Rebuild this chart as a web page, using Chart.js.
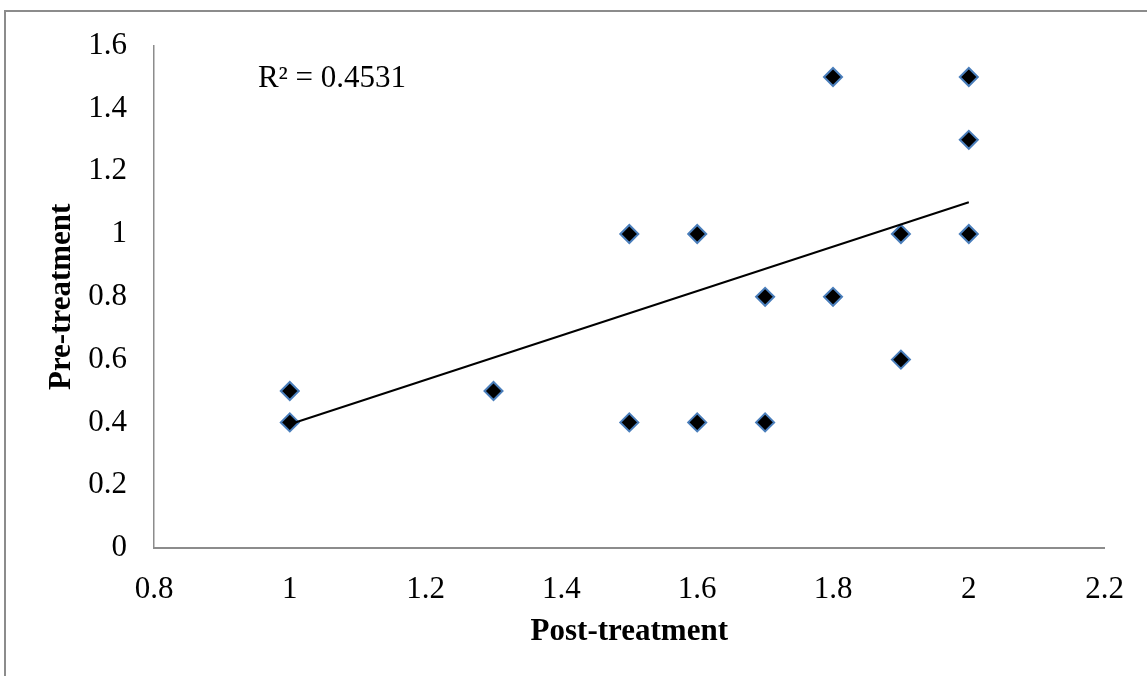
<!DOCTYPE html>
<html>
<head>
<meta charset="utf-8">
<script src="https://cdn.jsdelivr.net/npm/chart.js@4/dist/chart.umd.min.js"></script>
<style>
  body{margin:0;background:#fff;}
  canvas{display:block;}
</style>
</head>
<body>
<canvas id="chart" width="1147" height="676"></canvas>
<script>
// values
let postTreatment=[1,1,1.3,1.5,1.5,1.6,1.6,1.7,1.7,1.8,1.8,1.9,1.9,2,2,2];
let preTreatment=[0.5,0.4,0.5,1,0.4,1,0.4,0.8,0.4,1.5,0.8,1,0.6,1.5,1.3,1];
// linear trendline ends
let trendX=[1,2];
let trendY=[0.394,1.101];
let xTickLabels=['0.8','1','1.2','1.4','1.6','1.8','2','2.2'];
let yTickLabels=['0','0.2','0.4','0.6','0.8','1','1.2','1.4','1.6'];
let r2Text='R\u00b2 = 0.4531';
let r2Pos=[0.953,1.493];

let points=[];
for(let i=0;i<postTreatment.length;++i){
    points.push({x:postTreatment[i],y:preTreatment[i]});
}
let trend=[];
for(let i=0;i<trendX.length;++i){
    trend.push({x:trendX[i],y:trendY[i]});
}

const serif="'Liberation Serif','Times New Roman',serif";
const axisGray='#8c8c8c';
const fontSize=31;

// outer chart frame (only top and left edge show in the picture)
const framePlugin={
    id:'frame',
    beforeDraw(chart){
        const ctx=chart.ctx;
        ctx.save();
        ctx.strokeStyle=axisGray;
        ctx.lineWidth=2;
        ctx.beginPath();
        ctx.moveTo(chart.width,11);
        ctx.lineTo(5,11);
        ctx.lineTo(5,chart.height);
        ctx.stroke();
        ctx.restore();
    }
};

const r2Plugin={
    id:'r2label',
    afterDraw(chart){
        const ctx=chart.ctx;
        ctx.save();
        ctx.font=fontSize+'px '+serif;
        ctx.fillStyle='#000';
        ctx.textAlign='left';
        ctx.textBaseline='middle';
        ctx.fillText(r2Text,chart.scales.x.getPixelForValue(r2Pos[0]),chart.scales.y.getPixelForValue(r2Pos[1]));
        ctx.restore();
    }
};

new Chart(document.getElementById('chart'),{
    type:'scatter',
    data:{
        datasets:[{
            data:trend,
            showLine:true,
            borderColor:'#000',
            borderWidth:2,
            pointRadius:0,
            order:0
        },{
            data:points,
            pointStyle:'rectRot',
            pointRadius:9,
            pointBackgroundColor:'#000',
            pointBorderColor:'#4a7ebb',
            pointBorderWidth:2,
            order:1
        }]
    },
    options:{
        responsive:false,
        devicePixelRatio:1,
        animation:false,
        layout:{padding:{left:0,right:40,top:41,bottom:0}},
        plugins:{legend:{display:false},tooltip:{enabled:false}},
        scales:{
            x:{
                type:'linear',
                min:0.8,max:2.2,
                grid:{display:false,drawTicks:false},
                border:{display:true,color:axisGray,width:2},
                ticks:{
                    stepSize:0.2,
                    padding:23,
                    color:'#000',
                    font:{family:serif,size:fontSize},
                    callback:(v,i)=>xTickLabels[i]
                },
                title:{
                    display:true,
                    text:'Post-treatment',
                    color:'#000',
                    font:{family:serif,size:fontSize,weight:'bold'},
                    padding:{top:0,bottom:25}
                },
                afterFit(scale){scale.height=128;}
            },
            y:{
                type:'linear',
                min:0,max:1.6,
                grid:{display:false,drawTicks:false},
                border:{display:true,color:axisGray,width:1.5},
                ticks:{
                    stepSize:0.2,
                    padding:27,
                    color:'#000',
                    font:{family:serif,size:fontSize},
                    callback:(v,i)=>yTickLabels[i]
                },
                title:{
                    display:true,
                    text:'Pre-treatment',
                    color:'#000',
                    font:{family:serif,size:fontSize,weight:'bold'},
                    padding:{top:43,bottom:0}
                },
                afterFit(scale){scale.width=154;}
            }
        }
    },
    plugins:[framePlugin,r2Plugin]
});
</script>
</body>
</html>
